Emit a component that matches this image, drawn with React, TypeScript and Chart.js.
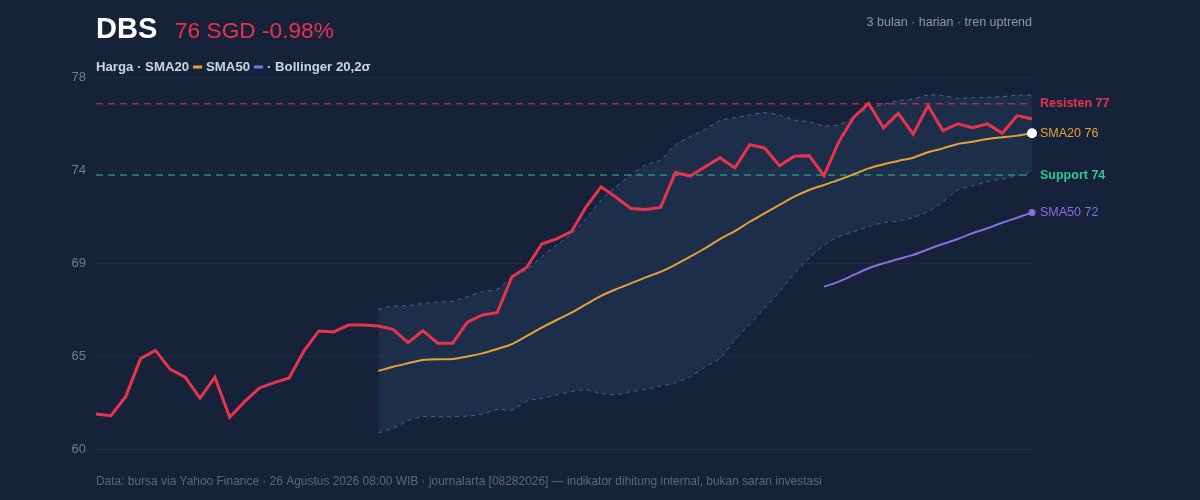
import { useEffect, useRef } from 'react'
import { Chart, registerables } from 'chart.js'

Chart.register(...registerables)

// 3 bulan harian, DBS (SGD)
const price = [
  61.73, 61.65, 62.59, 64.47, 64.88, 63.94, 63.55, 62.51, 63.55, 61.57,
  62.34, 63.02, 63.28, 63.51, 64.86, 65.84, 65.79, 66.13, 66.13, 66.08,
  65.92, 65.26, 65.85, 65.23, 65.23, 66.27, 66.63, 66.74, 68.52, 68.99,
  70.14, 70.39, 70.75, 71.99, 72.97, 72.45, 71.9, 71.85, 71.95, 73.68,
  73.5, 73.96, 74.41, 73.9, 75.05, 74.89, 74.01, 74.48, 74.51, 73.52,
  75.2, 76.41, 77.1, 75.89, 76.6, 75.57, 76.98, 75.75, 76.08, 75.89,
  76.08, 75.62, 76.49, 76.32,
]

const sma20Values = [
  63.86, 64.07, 64.24, 64.4, 64.44, 64.45, 64.57, 64.73, 64.95, 65.19,
  65.59, 66.0, 66.38, 66.74, 67.16, 67.57, 67.9, 68.19, 68.49, 68.76,
  69.12, 69.51, 69.93, 70.38, 70.78, 71.24, 71.66, 72.07, 72.48, 72.81,
  73.06, 73.31, 73.59, 73.88, 74.08, 74.25, 74.41, 74.68, 74.87, 75.09,
  75.2, 75.33, 75.42, 75.5, 75.62,
]

const sma50Values = [
  68.03, 68.28, 68.61, 68.94, 69.18, 69.4, 69.6, 69.88, 70.14, 70.39,
  70.67, 70.92, 71.19, 71.44, 71.7,
]

const bbUpperValues = [
  66.91, 67.07, 67.09, 67.2, 67.27, 67.3, 67.53, 67.78, 67.9, 68.49,
  68.85, 69.51, 70.09, 70.63, 71.41, 72.32, 72.97, 73.55, 74.05, 74.3,
  75.04, 75.45, 75.81, 76.24, 76.39, 76.52, 76.64, 76.51, 76.27, 76.19,
  75.98, 76.03, 76.41, 76.85, 77.05, 77.23, 77.31, 77.51, 77.48, 77.35,
  77.38, 77.4, 77.43, 77.5, 77.5,
]

const bbLowerValues = [
  60.81, 61.02, 61.4, 61.6, 61.6, 61.6, 61.63, 61.72, 61.96, 61.93,
  62.37, 62.51, 62.67, 62.84, 62.92, 62.75, 62.7, 62.84, 62.95, 63.12,
  63.28, 63.58, 64.07, 64.49, 65.39, 66.18, 66.96, 67.78, 68.69, 69.43,
  70.09, 70.5, 70.75, 71.0, 71.19, 71.29, 71.46, 71.74, 72.23, 72.81,
  73.01, 73.22, 73.36, 73.52, 73.75,
]

const yTicks = [60, 64.6, 69.2, 73.8, 78.4]
const resistance = 77.08
const support = 73.55

const labels = price.map((_, i) => `H${i + 1}`)
const pad = (vals: number[]) => [...Array(price.length - vals.length).fill(null), ...vals]

const FONT = '"Liberation Sans", Arial, Helvetica, sans-serif'
const RED = '#e8334f'
const ORANGE = '#e3a235'
const PURPLE = '#8b6be0'
const GREEN = '#2ec990'

const overlay = {
  id: 'overlay',
  afterDraw(chart: Chart) {
    const { ctx, chartArea } = chart
    const y = chart.scales.y
    ctx.save()
    ctx.textBaseline = 'alphabetic'

    // judul
    ctx.fillStyle = '#ffffff'
    ctx.font = `bold 29px ${FONT}`
    ctx.textAlign = 'left'
    ctx.fillText('DBS', 96, 38)
    ctx.fillStyle = RED
    ctx.font = `22.7px ${FONT}`
    ctx.fillText('76 SGD -0.98%', 175, 38)

    ctx.fillStyle = '#8c98ae'
    ctx.font = `12.5px ${FONT}`
    ctx.textAlign = 'right'
    ctx.fillText('3 bulan · harian · tren uptrend', 1032, 26)

    // legenda
    ctx.textAlign = 'left'
    ctx.textBaseline = 'middle'
    ctx.font = `bold 13.2px ${FONT}`
    ctx.fillStyle = '#cdd5e3'
    let x = 96
    const ly = 67
    const t1 = 'Harga · SMA20'
    ctx.fillText(t1, x, ly)
    x += ctx.measureText(t1).width + 4
    ctx.fillStyle = ORANGE
    ctx.fillRect(x, ly - 1.5, 9, 3)
    x += 13
    ctx.fillStyle = '#cdd5e3'
    const t2 = 'SMA50'
    ctx.fillText(t2, x, ly)
    x += ctx.measureText(t2).width + 4
    ctx.fillStyle = PURPLE
    ctx.fillRect(x, ly - 1.5, 9, 3)
    x += 13
    ctx.fillStyle = '#cdd5e3'
    ctx.fillText('· Bollinger 20,2σ', x, ly)

    // label kanan
    const lx = chartArea.right + 8
    const right: [string, number, string, boolean][] = [
      ['Resisten 77', resistance, RED, true],
      ['SMA20 76', sma20Values[sma20Values.length - 1], ORANGE, false],
      ['Support 74', support, GREEN, true],
      ['SMA50 72', sma50Values[sma50Values.length - 1], PURPLE, false],
    ]
    right.forEach(([txt, v, c, b]) => {
      ctx.fillStyle = c
      ctx.font = `${b ? 'bold ' : ''}12.5px ${FONT}`
      ctx.fillText(txt, lx, y.getPixelForValue(v))
    })

    // sumber
    ctx.fillStyle = '#5b6780'
    ctx.font = `11.95px ${FONT}`
    ctx.fillText(
      'Data: bursa via Yahoo Finance · 26 Agustus 2026 08:00 WIB · journalarta [08282026] — indikator dihitung internal, bukan saran investasi',
      96,
      482,
    )
    ctx.restore()
  },
}

export default function App() {
  const ref = useRef<HTMLCanvasElement>(null)

  useEffect(() => {
    document.body.style.margin = '0'
    if (!ref.current) return
    const lastOnly = (n: number, r: number) => (c: any) => (c.dataIndex === n - 1 ? r : 0)
    const chart = new Chart(ref.current, {
      type: 'line',
      data: {
        labels,
        datasets: [
          {
            label: 'Harga',
            data: price,
            borderColor: RED,
            borderWidth: 3,
            pointRadius: 0,
            tension: 0,
            order: 0,
          },
          {
            label: 'SMA20',
            data: pad(sma20Values),
            borderColor: ORANGE,
            borderWidth: 2,
            pointRadius: lastOnly(price.length, 5),
            pointBackgroundColor: '#ffffff',
            pointBorderWidth: 0,
            tension: 0.3,
            order: 1,
          },
          {
            label: 'SMA50',
            data: pad(sma50Values),
            borderColor: PURPLE,
            borderWidth: 2,
            pointRadius: lastOnly(price.length, 3.5),
            pointBackgroundColor: PURPLE,
            pointBorderWidth: 0,
            tension: 0.3,
            order: 2,
          },
          {
            label: 'Resisten',
            data: labels.map(() => resistance),
            borderColor: 'rgba(232,51,79,0.65)',
            borderWidth: 1.5,
            borderDash: [7, 5],
            pointRadius: 0,
            order: 3,
          },
          {
            label: 'Support',
            data: labels.map(() => support),
            borderColor: 'rgba(46,201,144,0.65)',
            borderWidth: 1.5,
            borderDash: [7, 5],
            pointRadius: 0,
            order: 4,
          },
          {
            label: 'BB atas',
            data: pad(bbUpperValues),
            borderColor: 'rgba(78,112,168,0.85)',
            borderWidth: 1,
            borderDash: [4, 4],
            pointRadius: 0,
            tension: 0.3,
            fill: '+1',
            backgroundColor: 'rgba(48,70,112,0.32)',
            order: 5,
          },
          {
            label: 'BB bawah',
            data: pad(bbLowerValues),
            borderColor: 'rgba(78,112,168,0.85)',
            borderWidth: 1,
            borderDash: [4, 4],
            pointRadius: 0,
            tension: 0.3,
            order: 6,
          },
        ],
      },
      options: {
        animation: false,
        responsive: true,
        maintainAspectRatio: false,
        layout: { padding: { top: 77, right: 168, bottom: 51, left: 0 } },
        plugins: { legend: { display: false }, tooltip: { enabled: false } },
        scales: {
          x: { display: false, offset: false },
          y: {
            min: 60,
            max: 78.4,
            afterBuildTicks: (s) => {
              s.ticks = yTicks.map((v) => ({ value: v }))
            },
            afterFit: (s) => {
              s.width = 96
            },
            border: { display: false },
            grid: { color: '#1f2b46', drawTicks: false, lineWidth: 1 },
            ticks: {
              padding: 10,
              color: '#6f7d98',
              font: { family: FONT, size: 13 },
              callback: (v) => String(Math.round(Number(v))),
            },
          },
        },
      },
      plugins: [overlay],
    })
    return () => chart.destroy()
  }, [])

  return (
    <div style={{ width: 1200, height: 500, background: '#16223a', position: 'relative' }}>
      <canvas ref={ref} />
    </div>
  )
}
